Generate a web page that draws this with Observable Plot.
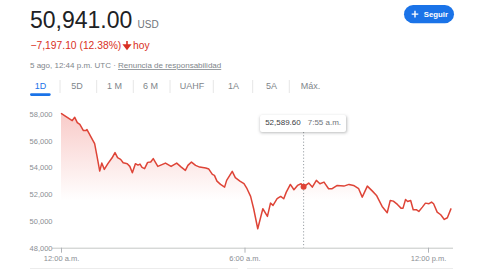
<!DOCTYPE html>
<html>
<head>
<meta charset="utf-8">
<script src="https://cdn.jsdelivr.net/npm/d3@7"></script>
<script src="https://cdn.jsdelivr.net/npm/@observablehq/plot@0.6"></script>
<style>
  html, body { margin: 0; padding: 0; background: #fff; }
  body { width: 480px; height: 270px; position: relative; overflow: hidden; font-family: "Liberation Sans", Arial, sans-serif; }
  #header { position: absolute; left: 0; top: 0; }
  #chart { position: absolute; left: 0; top: 100px; }
  #tip { position: absolute; top: 115px; height: 16.7px; line-height: 16.7px; background: #fff;
         box-shadow: 0 1px 3px rgba(60,64,67,0.35); border-radius: 2px; font-size: 8px; padding: 0 5px;
         white-space: nowrap; transform: translateX(-50%); }
  #tip .v { color: #3c4043; margin-right: 7px; }
  #tip .t { color: #70757a; }
  .divider { position: absolute; top: 267.5px; border-top: 1px solid #ececec; }
</style>
</head>
<body>
<svg id="header" width="480" height="100" font-family="Liberation Sans, Arial, sans-serif">
  <text x="30" y="28.3" font-size="23" fill="#202124">50,941.00</text>
  <text x="137.5" y="27.7" font-size="10" fill="#70757a">USD</text>
  <text x="30.5" y="49" font-size="10.3" fill="#d93025">−7,197.10 (12.38%)</text>
  <path d="M127 41 L127 46 M124 45 L127 49 L130 45 Z" stroke="#d93025" stroke-width="1.6" fill="#d93025"/>
  <text x="133" y="49" font-size="10.3" fill="#d93025">hoy</text>
  <text x="30" y="68" font-size="8" fill="#80868b">5 ago, 12:44 p.m. UTC · <tspan text-decoration="underline">Renuncia de responsabilidad</tspan></text>
  <g font-size="9" text-anchor="middle" fill="#80868b">
    <text x="40.5" y="89.3" fill="#1a73e8">1D</text>
    <text x="77" y="89.3">5D</text>
    <text x="114.5" y="89.3">1 M</text>
    <text x="150.5" y="89.3">6 M</text>
    <text x="192" y="89.3">UAHF</text>
    <text x="233.5" y="89.3">1A</text>
    <text x="271.5" y="89.3">5A</text>
    <text x="310.5" y="89.3">Máx.</text>
  </g>
  <g stroke="#e6e6e6" stroke-width="1">
    <line x1="60" x2="60" y1="80" y2="93"/>
    <line x1="96.7" x2="96.7" y1="80" y2="93"/>
    <line x1="133.3" x2="133.3" y1="80" y2="93"/>
    <line x1="170" x2="170" y1="80" y2="93"/>
    <line x1="213.3" x2="213.3" y1="80" y2="93"/>
    <line x1="252.7" x2="252.7" y1="80" y2="93"/>
    <line x1="289.3" x2="289.3" y1="80" y2="93"/>
  </g>
  <rect x="30" y="93.3" width="20.7" height="2.6" rx="1.3" fill="#1a73e8"/>
  <rect x="404" y="5" width="50" height="18.3" rx="9.15" fill="#1a73e8"/>
  <path d="M415 10.8 V17.4 M411.7 14.1 H418.3" stroke="#fff" stroke-width="1.4"/>
  <text x="423.7" y="17" font-size="7.8" font-weight="bold" fill="#fff">Seguir</text>
</svg>
<div id="chart"></div>
<div id="tip"><span class="v">52,589.60</span><span class="t">7:55 a.m.</span></div>
<div class="divider" style="left:30px;width:208px"></div>
<div class="divider" style="left:247px;width:206px"></div>
<script>
// minutes since 12:00 a.m.
const minutes = [
  0,18,21,26,31,36,43,48,50,58,
  65,70,75,79,84,91,99,105,110,116,
  121,129,134,139,145,150,154,158,163,169,
  175,180,189,204,215,226,235,243,248,255,
  263,271,283,289,296,300,305,312,320,324,
  335,341,350,358,364,371,377,385,395,404,
  410,415,423,430,436,441,449,456,463,470,
  475,485,492,500,507,515,524,531,541,554,
  564,573,583,590,600,610,618,629,639,645,
  651,659,666,670,675,679,685,690,696,701,
  708,714,721,726,730,737,744,751,757,764
];
const prices = [
  58067,57618,57543,57790,57393,57266,56794,56794,56869,56315,
  55820,54817,53768,54367,53895,54322,54742,55146,54771,54644,
  54397,54322,54120,53648,54322,54217,54292,54045,53948,54419,
  54442,54697,54120,54367,54120,54367,54068,53820,54195,54442,
  54195,54068,54000,53920,53520,53445,53019,52771,52569,53071,
  53745,53273,53019,52824,52449,51873,50951,49453,50951,50375,
  51371,51199,51700,51873,51700,52195,52771,52374,52696,52824,
  52589.6,52869,52569,53071,52824,52944,52449,52449,52696,52644,
  52771,52696,52449,51820,52644,52270,51948,51123,50652,51573,
  51521,51273,50996,50996,51648,51498,51573,50876,50876,50749,
  51071,51371,51326,51446,51326,50697,50502,50150,50277,50941
];
const yTicks = [48000, 50000, 52000, 54000, 56000, 58000];
const xTicks = [0, 360, 720];
const xTickLabels = ["12:00 a.m.", "6:00 a.m.", "12:00 p.m."];
const hoverMinute = 475;
const hoverPrice = 52589.6;

const data = minutes.map((m, i) => ({t: m, price: prices[i]}));
const yMin = yTicks[0];

const chart = Plot.plot({
  width: 480,
  height: 170,
  marginLeft: 61,
  marginRight: 52,
  marginTop: 14,
  marginBottom: 22.3,
  style: {fontFamily: "Liberation Sans, Arial, sans-serif", background: "transparent"},
  x: {domain: [xTicks[0], xTicks[xTicks.length - 1]]},
  y: {domain: [yTicks[0], yTicks[yTicks.length - 1]]},
  marks: [
    Plot.areaY(data, {x: "t", y1: yMin, y2: "price", fill: "url(#areaGrad)"}),
    Plot.ruleY([yMin], {stroke: "#c4c7c5", insetLeft: -9, insetRight: -25}),
    Plot.axisY({ticks: yTicks, tickSize: 0, tickPadding: 9, tickFormat: d3.format(","), fontSize: 7.5, fill: "#8a8e93", label: null}),
    Plot.axisX({ticks: xTicks, tickSize: 5, tickPadding: 2, tickFormat: d => xTickLabels[xTicks.indexOf(d)], fontSize: 7.5, stroke: "#b0b3b8", fill: "#8a8e93", label: null}),
    Plot.ruleX([hoverMinute], {stroke: "#9aa0a6", strokeDasharray: "1.2,2", insetTop: 18}),
    Plot.lineY(data, {x: "t", y: "price", stroke: "#de4437", strokeWidth: 1.5}),
    Plot.dot([{t: hoverMinute, price: hoverPrice}], {x: "t", y: "price", r: 3, fill: "#de4437"})
  ]
});

const defs = d3.select(chart).insert("defs", ":first-child");
const grad = defs.append("linearGradient").attr("id", "areaGrad")
  .attr("x1", 0).attr("y1", 0).attr("x2", 0).attr("y2", 1);
grad.append("stop").attr("offset", "0%").attr("stop-color", "#e8453c").attr("stop-opacity", 0.28);
grad.append("stop").attr("offset", "65%").attr("stop-color", "#e8453c").attr("stop-opacity", 0);

document.getElementById("chart").appendChild(chart);
document.getElementById("tip").style.left = chart.scale("x").apply(hoverMinute) + "px";
</script>
</body>
</html>
